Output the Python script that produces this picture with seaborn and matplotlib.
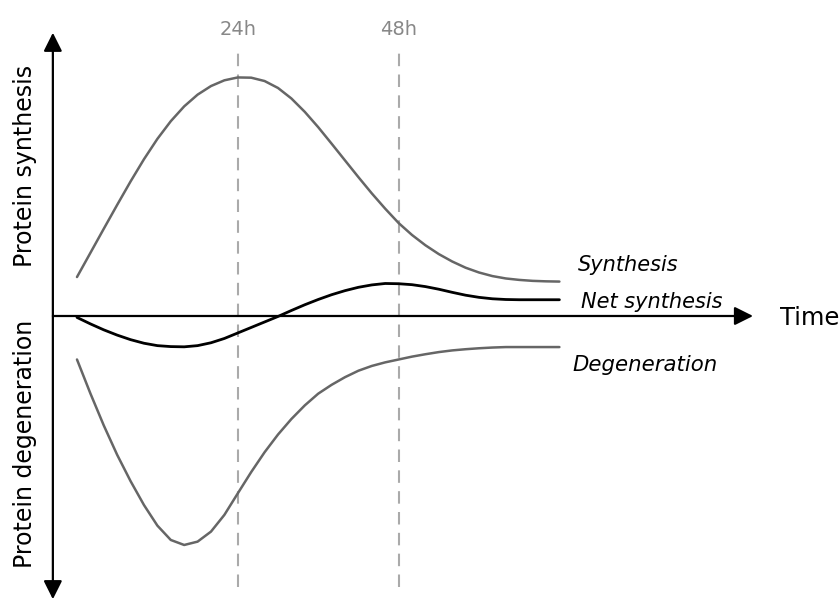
import matplotlib.pyplot as plt
import numpy as np
import seaborn as sns
import pandas as pd

# time points (hours) and curve values
hours = [0, 2, 4, 6, 8, 10, 12, 14, 16, 18, 20, 22, 24, 26, 28, 30, 32, 34, 36,
         38, 40, 42, 44, 46, 48, 50, 52, 54, 56, 58, 60, 62, 64, 66, 68, 70, 72]
synthesis = [16.3, 26.4, 36.5, 46.5, 56.3, 65.6, 74.1, 81.5, 87.7, 92.6, 96.2, 98.6, 99.8,
             99.7, 98.3, 95.4, 91.0, 85.4, 79.0, 72.1, 65.1, 58.1, 51.3, 44.9, 38.9,
             33.9, 29.6, 25.9, 22.8, 20.2, 18.2, 16.7, 15.7, 15.1, 14.7, 14.5, 14.4]
net_synthesis = [-0.6, -3.3, -5.8, -8.0, -9.9, -11.4, -12.4, -12.8, -12.9, -12.4, -11.2, -9.4, -7.1,
                 -4.8, -2.5, -0.2, 2.3, 4.7, 6.9, 8.9, 10.6, 12.0, 13.0, 13.6, 13.5,
                 13.1, 12.3, 11.2, 9.9, 8.7, 7.8, 7.2, 6.9, 6.8, 6.8, 6.8, 6.8]
degeneration = [-18.2, -32.4, -45.8, -58.1, -69.1, -79.1, -87.7, -93.7, -95.8, -94.4, -90.2, -83.2, -74.2,
                -65.3, -57.0, -49.6, -43.1, -37.4, -32.5, -28.8, -25.6, -22.9, -20.9, -19.4, -18.2,
                -17.0, -16.0, -15.1, -14.4, -13.9, -13.5, -13.2, -13.0, -13.0, -13.0, -13.0, -13.0]
markers_h = [24, 48]
marker_labels = ['24h', '48h']

sns.set_style("white")
plt.rcParams['font.family'] = ['DejaVu Sans']
plt.rcParams['text.color'] = 'black'

df = pd.DataFrame({'hours': hours, 'Synthesis': synthesis,
                   'Net synthesis': net_synthesis, 'Degeneration': degeneration})

fig = plt.figure(figsize=(8.4, 5.99), dpi=100)
ax = fig.add_axes([0, 0, 1, 1])

# dashed time markers
ax.vlines(markers_h, -113.4, 113, colors='#aaaaaa', linestyles=(0, (6, 4)), lw=1.5)
for h, lab in zip(markers_h, marker_labels):
    ax.text(h, 120, lab, ha='center', va='center', fontsize=14, color='#888888')

sns.lineplot(data=df, x='hours', y='Synthesis', ax=ax, color='#666666', lw=1.8)
sns.lineplot(data=df, x='hours', y='Degeneration', ax=ax, color='#666666', lw=1.8)
sns.lineplot(data=df, x='hours', y='Net synthesis', ax=ax, color='black', lw=2.0)

# axes drawn as arrows
ax.annotate('', xy=(100.9, 0), xytext=(-3.6, 0),
            arrowprops=dict(arrowstyle='-|>', color='black', lw=1.6, mutation_scale=28, shrinkA=0, shrinkB=0))
ax.annotate('', xy=(-3.6, 118.5), xytext=(-3.6, -118.5),
            arrowprops=dict(arrowstyle='<|-|>', color='black', lw=1.6, mutation_scale=28, shrinkA=0, shrinkB=0))

ax.text(104.9, -1, 'Time', ha='left', va='center', fontsize=17.5, color='black')
ax.text(-7.7, 62.8, 'Protein synthesis', rotation=90, ha='center', va='center', fontsize=17, color='black')
ax.text(-7.7, -53.6, 'Protein degeneration', rotation=90, ha='center', va='center', fontsize=17, color='black')

ax.text(74.8, 21.3, 'Synthesis', style='italic', ha='left', va='center', fontsize=15, color='black')
ax.text(75.2, 5.9, 'Net synthesis', style='italic', ha='left', va='center', fontsize=15, color='black')
ax.text(74.0, -20.5, 'Degeneration', style='italic', ha='left', va='center', fontsize=15.3, color='black')

ax.set_xlim(-11.49, 113.88)
ax.set_ylim(-118.4, 132.2)
ax.set_xlabel('')
ax.set_ylabel('')
ax.set_xticks([])
ax.set_yticks([])
sns.despine(ax=ax, left=True, bottom=True)

plt.savefig('out.png', dpi=100)
